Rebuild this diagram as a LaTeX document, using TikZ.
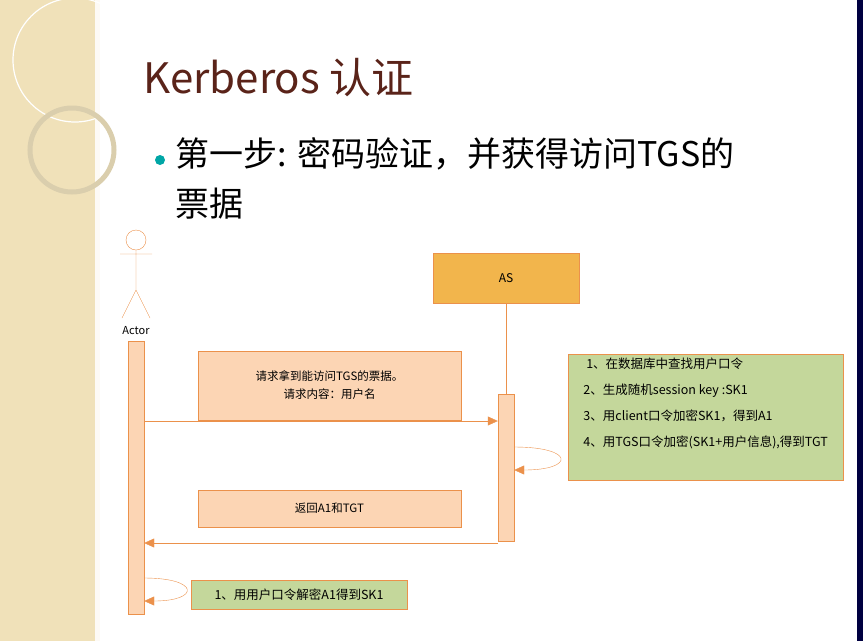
\documentclass[tikz,border=0pt]{standalone}
\usepackage{fontspec}
\setmainfont{Noto Sans CJK SC}
\usetikzlibrary{arrows.meta,positioning}
\definecolor{lineor}{RGB}{235,145,75}
\definecolor{fillor}{RGB}{252,213,180}
\definecolor{boxgr}{RGB}{196,215,155}
\definecolor{beige}{RGB}{240,225,185}
\definecolor{titlebr}{RGB}{90,35,25}
\tikzset{
  bar/.style={draw=lineor,fill=fillor,minimum width=16pt,inner sep=0pt},
  msg/.style={draw=lineor,fill=fillor,inner sep=0pt,font=\fontsize{11.5}{18}\selectfont,align=center},
  note/.style={draw=lineor,fill=boxgr,inner sep=0pt,font=\fontsize{12.5}{26}\selectfont,align=left},
  call/.style={draw=lineor,-{Triangle[length=10pt,width=9pt]}},
}
\begin{document}
\begin{tikzpicture}[x=1pt,y=-1pt]
  \useasboundingbox (0,0) rectangle (863,641);
  % background
  \fill[beige] (0,0) rectangle (95,641);
  \fill[white!85!beige] (95,0) rectangle (100,641);
  \draw[white,line width=1.2pt] (75,60) circle (62);
  \draw[beige!80!gray,line width=5pt] (72,150) circle (42);
  \fill[black!75!blue] (857,0) rectangle (863,641);
  % title
  \node[anchor=west,text=titlebr,font=\fontsize{42}{42}\selectfont] (title) at (140,78) {Kerberos 认证};
  \fill[teal!70!cyan] (160,160) circle (5);
  \node[anchor=north west,align=left,font=\fontsize{34}{50}\selectfont] (step) at (172,134) {第一步: 密码验证，并获得访问TGS的\\票据};
  % actor
  \draw[lineor] (136,240) circle (10);
  \draw[lineor] (136,250) -- (136,290) (120,254) -- (152,254) (122,318) -- (136,290) -- (150,318);
  \node[font=\fontsize{11}{11}\selectfont] (actor) at (136,331) {Actor};
  \node[bar,minimum height=273pt,anchor=north] (cbar) at (136,341) {};
  % AS
  \node[draw=lineor,fill=lineor!75!yellow!90,minimum width=146pt,minimum height=50pt,font=\fontsize{12}{12}\selectfont] (as) at (506,278) {AS};
  \node[bar,minimum height=147pt,anchor=north] (asbar) at (506,394) {};
  \draw[lineor] (as.south) -- (asbar.north);
  % messages
  \node[msg,minimum width=263pt,minimum height=69pt] (req) at (329.5,385.5) {请求拿到能访问TGS的票据。\\请求内容：用户名};
  \draw[call] (cbar.east |- 0,421) -- (asbar.west |- 0,421);
  \draw[call] (asbar.east |- 0,447) .. controls (575,447) and (575,470) .. (asbar.east |- 0,470);
  \node[note,minimum width=275pt,minimum height=126pt,anchor=north west,inner xsep=3pt,inner ysep=2pt,text depth=30pt] (asnote) at (568,354) {\ 1、在数据库中查找用户口令\\2、生成随机session key :SK1\\3、用client口令加密SK1，得到A1\\4、用TGS口令加密(SK1+用户信息),得到TGT};
  \node[msg,minimum width=263pt,minimum height=37pt] (ret) at (329.5,508.5) {返回A1和TGT};
  \draw[call] (asbar.west |- 0,543) -- (cbar.east |- 0,543);
  \draw[call] (cbar.east |- 0,578) .. controls (200,578) and (200,601) .. (cbar.east |- 0,601);
  \node[note,minimum width=216pt,minimum height=29pt,align=center] (cnote) at (299,594.5) {1、用用户口令解密A1得到SK1};
\end{tikzpicture}
\end{document}
